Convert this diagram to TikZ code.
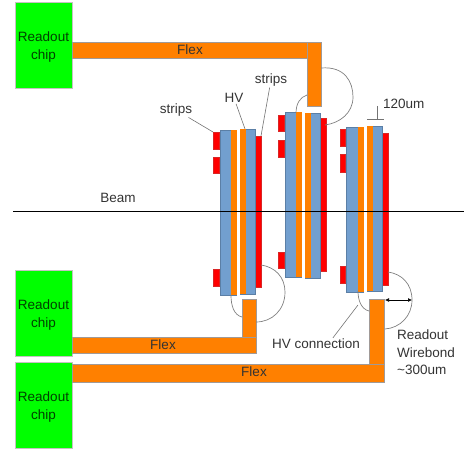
\documentclass[tikz,border=0pt]{standalone}
\usepackage{fontspec}
\setmainfont{Liberation Sans}
\usepackage{xcolor}
\usetikzlibrary{arrows.meta,calc,positioning}
\definecolor{flexorange}{HTML}{FF8000}
\definecolor{sensorblue}{HTML}{729FCF}
\definecolor{edgeblue}{HTML}{A09A98}
\definecolor{textdark}{HTML}{333333}
\tikzset{
  chipbox/.style={draw=edgeblue!60,fill=green,line width=0.6pt,inner sep=0pt,minimum width=57pt,minimum height=86pt},
  flexbar/.style={draw=edgeblue,fill=flexorange,line width=0.5pt},
  sensor/.style={draw=sensorblue!80!black,fill=sensorblue,line width=0.3pt},
  hvlayer/.style={fill=flexorange},
  stripbar/.style={fill=red,draw=red!70!gray,line width=0.3pt},
  bond/.style={draw=black!50,line width=0.7pt},
  leader/.style={draw=black!55,line width=0.6pt},
  label/.style={text=textdark,font=\fontsize{13.5}{17.5}\selectfont,inner sep=1pt,align=center},
  chiplabel/.style={label,text=black!75!green}
}
\begin{document}
\begin{tikzpicture}[x=1pt,y=-1pt,>=Latex]
  \useasboundingbox (0,0) rectangle (464,449);

  % Green = readout chips
  \node[chipbox] (chipTop) at (43.5,45) {};
  \node[chipbox] (chipMid) at (43.5,313.5) {};
  \node[chipbox] (chipLow) at (43.5,405) {};
  \node[chiplabel] (chipTopText) at (43.5,47) {Readout\\chip};
  \node[chiplabel] (chipMidText) at (43.5,315) {Readout\\chip};
  \node[chiplabel] (chipLowText) at (43.5,407) {Readout\\chip};

  % Orange = flex
  \draw[flexbar] (72,42) rectangle (307,58);
  \draw[flexbar] (307,42) rectangle (321,106);
  \draw[flexbar] (72,337) rectangle (256,353);
  \draw[flexbar] (242,299) rectangle (256,337);
  \draw[flexbar] (72,364) rectangle (384,382);
  \draw[flexbar] (369,299) rectangle (384,364);
  \node[label] (flexTop) at (190,50) {Flex};
  \node[label] (flexMid) at (163,345) {Flex};
  \node[label] (flexLow) at (254,372) {Flex};

  % Left module
  \fill[stripbar] (213,132) rectangle (219,149);
  \fill[stripbar] (213,157) rectangle (219,173);
  \fill[stripbar] (213,269) rectangle (219,286);
  \fill[sensor] (220,130) rectangle (236,295);
  \fill[hvlayer] (231,130) rectangle (236.5,295);
  \fill[stripbar] (255,136) rectangle (261,287);
  \fill[sensor] (240,129) rectangle (255,294);
  \fill[hvlayer] (240,129) rectangle (245.5,294);

  % Middle module
  \fill[stripbar] (278,115) rectangle (284,131);
  \fill[stripbar] (278,140) rectangle (284,157);
  \fill[stripbar] (278,252) rectangle (284,268);
  \fill[sensor] (285,112) rectangle (301,277);
  \fill[hvlayer] (296,112) rectangle (301.5,277);
  \fill[stripbar] (320,118) rectangle (326,271);
  \fill[sensor] (305,113) rectangle (320,278);
  \fill[hvlayer] (305,113) rectangle (310.5,278);

  % Right module
  \fill[stripbar] (340,129) rectangle (345,146);
  \fill[stripbar] (340,154) rectangle (345,172);
  \fill[stripbar] (340,266) rectangle (345,283);
  \fill[sensor] (346,127) rectangle (363,292);
  \fill[hvlayer] (358,127) rectangle (363.5,292);
  \fill[stripbar] (382,133) rectangle (388,285);
  \fill[sensor] (367,126) rectangle (382,291);
  \fill[hvlayer] (367,126) rectangle (372.5,291);

  % Wirebonds
  \draw[bond] (321,68) .. controls (345,66) and (353,82) .. (353,97)
    .. controls (353,113) and (340,123) .. (325,125);
  \draw[bond] (296,113) .. controls (296,104) and (300,97) .. (307,95);
  \draw[bond] (261,265) .. controls (275,267) and (285,277) .. (285,292)
    .. controls (285,310) and (272,322) .. (256,322);
  \draw[bond] (231,295) .. controls (231,306) and (234,315) .. (242,317);
  \draw[bond] (388,272) .. controls (402,274) and (412,284) .. (412,300)
    .. controls (412,316) and (400,328) .. (385,329);
  \draw[bond] (358,291) .. controls (358,300) and (361,309) .. (369,311);

  % Beam
  \coordinate (beamL) at (13,211);
  \coordinate (beamR) at (464,211);
  \draw[black,line width=0.7pt] (beamL) -- (beamR);
  \node[label] (beamText) at (118,198) {Beam};

  % Labels and leaders
  \node[label] (stripsL) at (176,110) {strips};
  \node[label] (hvText) at (234,98) {HV};
  \node[label] (stripsR) at (271,80) {strips};
  \coordinate (stripsLEnd) at (213,132);
  \coordinate (hvEnd) at (245,129);
  \coordinate (stripsREnd) at (261,136);
  \draw[leader] (stripsL) -- (stripsLEnd);
  \draw[leader] (hvText) -- (hvEnd);
  \draw[leader] (stripsR) -- (stripsREnd);

  \node[label] (hvConn) at (316,344) {HV connection};
  \coordinate (hvConnEnd) at (358,305);
  \draw[leader] (hvConn.20) -- (hvConnEnd);

  \node[label,align=left,anchor=north west] (bondText) at (396,329) {Readout\\Wirebond\\\textasciitilde300um};
  \coordinate (spanL) at (385,300);
  \coordinate (spanR) at (412,300);
  \draw[<->,black,line width=0.7pt,>={Latex[length=4pt,width=4pt]}] (spanL) -- (spanR);

  \node[label,anchor=west] (widthText) at (382,104) {120um};
  \coordinate (tickTop) at (377,106);
  \coordinate (tickMid) at (377,119);
  \coordinate (tickL) at (367,119);
  \coordinate (tickR) at (384,119);
  \draw[leader] (tickTop) -- (tickMid);
  \draw[leader] (tickL) -- (tickR);
\end{tikzpicture}
\end{document}
